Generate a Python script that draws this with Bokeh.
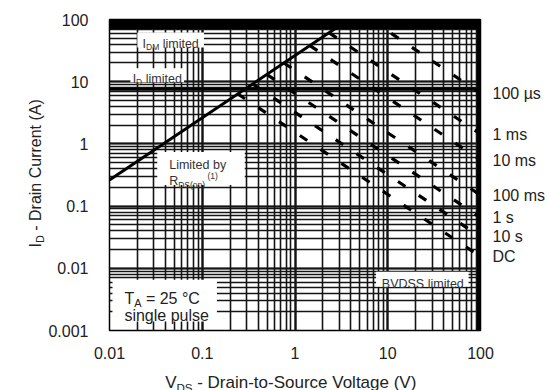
import math

from bokeh.plotting import figure
from bokeh.layouts import row, column
from bokeh.models import (FixedTicker, CustomJSTickFormatter, Label,
                          BoxAnnotation, Span, LogAxis)
from bokeh.core.properties import value
from bokeh.embed import file_html
from bokeh.resources import INLINE

# ---- data -------------------------------------------------------------
x_ticks = [0.01, 0.1, 1, 10, 100]
x_tick_labels = ["0.01", "0.1", "1", "10", "100"]
y_ticks = [0.001, 0.01, 0.1, 1, 10, 100]
y_tick_labels = ["0.001", "0.01", "0.1", "1", "10", "100"]

# R_DS(on) limit line
rds_v = [0.01, 3.8]
rds_i = [0.263, 100]

# pulsed / continuous drain-current limits (A)
idm_limit = 85
id_limit = 7.55

# pulse-width boundaries: start on the R_DS(on) line (or I_DM), end at 100 V
pulse_labels = ["100 µs", "1 ms", "10 ms", "100 ms", "1 s", "10 s", "DC"]
pulse_start_v = [6.5, 2.34, 1.45, 0.76, 0.50, 0.35, 0.24]
pulse_start_i = [100, 61, 38, 20, 13, 9.2, 6.4]
pulse_end_v = [100, 100, 100, 100, 100, 100, 100]
pulse_end_i = [6.5, 1.44, 0.55, 0.15, 0.065, 0.032, 0.0154]

# ---- layout geometry --------------------------------------------------
W, H = 550, 390
YT_W = 45                       # strip holding the vertical axis title
XT_H = 29                       # strip holding the horizontal axis title
PW, PH = W - YT_W, H - XT_H     # main plot size
FL, FR, FT, FB = 107 - YT_W, 70, 19, PH - 331
FW, FH = PW - FL - FR, PH - FT - FB
DEC_X = FW / 4.0
DEC_Y = FH / 5.0

FONT = "Liberation Sans"
INK = "#222222"
LBL = "#333333"
GRID = "#141414"
TICK_JS = "const i = tv.indexOf(tick); return i >= 0 ? labs[i] : '';"

p = figure(width=PW, height=PH, x_axis_type="log", y_axis_type="log",
           x_range=(0.01, 100), y_range=(0.001, 100), title=None,
           output_backend="svg", toolbar_location=None,
           min_border_left=FL, min_border_right=FR,
           min_border_top=FT, min_border_bottom=FB)
p.background_fill_color = "white"
p.border_fill_color = "white"
p.outline_line_color = "black"
p.outline_line_width = 1.5

x_minor = [m * 10.0 ** e for e in range(-2, 2) for m in range(1, 10)] + [100]
y_minor = [m * 10.0 ** e for e in range(-3, 2) for m in range(1, 10)] + [100]

p.xaxis.ticker = FixedTicker(ticks=x_ticks, minor_ticks=x_minor)
p.yaxis.ticker = FixedTicker(ticks=y_ticks, minor_ticks=y_minor)
p.xaxis.formatter = CustomJSTickFormatter(
    args=dict(tv=x_ticks, labs=x_tick_labels), code=TICK_JS)
p.yaxis.formatter = CustomJSTickFormatter(
    args=dict(tv=y_ticks, labs=y_tick_labels), code=TICK_JS)

# pulse-width names sit on a right-hand axis, one tick per curve end
p.add_layout(LogAxis(
    ticker=FixedTicker(ticks=pulse_end_i),
    formatter=CustomJSTickFormatter(
        args=dict(tv=pulse_end_i, labs=pulse_labels), code=TICK_JS)),
    "right")

for ax in p.axis:
    ax.axis_line_color = None
    ax.major_tick_line_color = None
    ax.minor_tick_line_color = None
    ax.major_label_text_font = FONT
    ax.major_label_text_font_size = "16px"
    ax.major_label_text_color = INK
p.xaxis.major_label_standoff = 10
p.yaxis[0].major_label_standoff = 15
p.yaxis[1].major_label_standoff = 6

for g in (p.xgrid, p.ygrid):
    g.grid_line_color = GRID
    g.grid_line_width = 2.2
    g.grid_line_alpha = 1
    g.minor_grid_line_color = GRID
    g.minor_grid_line_width = 1.6
    g.minor_grid_line_alpha = 1

# ---- limit lines ------------------------------------------------------
p.line(rds_v, rds_i, line_color="black", line_width=3)
p.multi_line(xs=[[a, b] for a, b in zip(pulse_start_v, pulse_end_v)],
             ys=[[a, b] for a, b in zip(pulse_start_i, pulse_end_i)],
             line_color="black", line_width=3.2, line_dash="9 16")
p.add_layout(Span(location=idm_limit, dimension="width",
                  line_color="black", line_width=10))
p.add_layout(Span(location=id_limit, dimension="width",
                  line_color="black", line_width=3))
p.add_layout(Span(location=100, dimension="height",
                  line_color="black", line_width=7))

# ---- text helpers -----------------------------------------------------
ADV = {" ": 278, "-": 333, "(": 333, ")": 333, ".": 278, "=": 584,
       "°": 400, "µ": 576, "A": 667, "B": 667, "C": 722, "D": 722,
       "I": 278, "L": 556, "M": 833, "R": 722, "S": 667, "T": 611,
       "V": 667, "a": 556, "b": 556, "c": 500, "d": 556, "e": 556,
       "g": 556, "i": 222, "l": 222, "m": 833, "n": 556, "o": 556,
       "p": 556, "r": 333, "s": 500, "t": 278, "u": 556, "y": 500}
SHIFT = {"n": 0.0, "sub": -0.28, "sup": 0.45}


def width(s, size):
    return sum(ADV.get(c, 556) for c in s) * size / 1000.0


def pieces(parts, size, align="left"):
    """Yield (text, font size, advance, baseline shift) for a rich run."""
    sizes = [size if k == "n" else size * 0.68 for _, k in parts]
    total = sum(width(t, s) for (t, _), s in zip(parts, sizes))
    pos = -total / 2 if align == "center" else 0.0
    for (t, k), s in zip(parts, sizes):
        lead = len(t) - len(t.lstrip(" "))
        pos += width(" " * lead, s)
        core = t.strip(" ")
        yield core, s, pos, SHIFT[k] * size
        pos += width(t[lead:], s)


def at(px, py):
    """Canvas pixel position -> data position of the main plot."""
    return (10 ** ((px - YT_W - FL) / DEC_X - 2),
            10 ** (2 - (py - FT) / DEC_Y))


def rich(px, py, parts, size, color=INK, align="left"):
    x, y = at(px, py)
    for t, s, pos, shift in pieces(parts, size, align):
        p.add_layout(Label(x=x, y=y, x_offset=pos, y_offset=shift, text=t,
                           text_font=FONT, text_font_size=f"{s:.1f}px",
                           text_color=color, text_align="left",
                           text_baseline="alphabetic"))


def white_box(x0, y0, x1, y1):
    l, t = at(x0, y0)
    r, b = at(x1, y1)
    p.add_layout(BoxAnnotation(left=l, right=r, top=t, bottom=b,
                               fill_color="white", fill_alpha=1,
                               line_color=None))


# ---- annotation boxes -------------------------------------------------
white_box(135, 32, 202, 47)
rich(168.5, 43.5, [("I", "n"), ("DM", "sub"), (" limited", "n")], 12.5,
     LBL, align="center")

white_box(128, 68, 182, 82)
rich(155, 78.5, [("I", "n"), ("D", "sub"), (" limited", "n")], 12.5,
     LBL, align="center")

white_box(155, 152, 243, 185)
rich(167, 164.5, [("Limited by", "n")], 12.5, LBL)
rich(167, 181.5, [("R", "n"), ("DS(on)", "sub"), (" (1)", "sup")],
     12.5, LBL)

white_box(375, 272, 468, 287)
rich(422, 284, [("BVDSS limited", "n")], 12.5, LBL, align="center")

white_box(110, 280, 215, 322)
rich(122, 298.5, [("T", "n"), ("A", "sub"), (" = 25 °C", "n")], 16, INK)
rich(122, 315.5, [("single pulse", "n")], 16, INK)


# ---- axis-title strips (canvas pixel coordinates, y downward) --------
def strip(w, h, xr, yr):
    f = figure(width=w, height=h, x_range=xr, y_range=yr,
               title=None, output_backend="svg", toolbar_location=None,
               min_border=0, x_axis_location=None, y_axis_location=None)
    f.xgrid.visible = False
    f.ygrid.visible = False
    f.outline_line_color = None
    f.background_fill_color = "white"
    f.border_fill_color = "white"
    return f


def strip_text(f, x, y, parts, size, vertical=False):
    for t, s, pos, shift in pieces(parts, size):
        if vertical:
            tx, ty, ang = x - shift, y - pos, math.pi / 2
        else:
            tx, ty, ang = x + pos, y - shift, 0.0
        f.text(x=[tx], y=[ty], text=[t], angle=ang,
               text_font=value(FONT), text_font_size=value(f"{s:.1f}px"),
               text_color=INK, text_align="left",
               text_baseline="alphabetic")


ytitle = strip(YT_W, H, (0, YT_W), (H, 0))
strip_text(ytitle, 35, 247,
           [("I", "n"), ("D", "sub"), (" - Drain Current (A)", "n")],
           16, vertical=True)

# the strip under the plot shares the plot's frame columns
xtitle = strip(PW, XT_H, (YT_W + FL, YT_W + FL + FW), (H, PH))
strip_text(xtitle, 163, 382,
           [("V", "n"), ("DS", "sub"),
            (" - Drain-to-Source Voltage (V)", "n")], 17)

layout = row(ytitle, column(p, xtitle, spacing=0), spacing=0)
open("out.html", "w").write(file_html(layout, INLINE))
